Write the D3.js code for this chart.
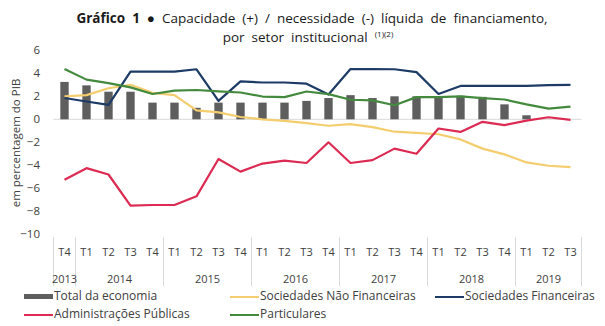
<!DOCTYPE html>
<html>
<head>
<meta charset="utf-8">
<script src="https://cdn.jsdelivr.net/npm/d3@7"></script>
<style>
  html, body { margin: 0; padding: 0; background: #fff; }
  svg { display: block; font-family: "Open Sans", "Noto Sans", sans-serif; }
</style>
</head>
<body>
<svg id="chart" width="605" height="326"></svg>
<script>
// ---- data ----
const quarters = ["T4","T1","T2","T3","T4","T1","T2","T3","T4","T1","T2","T3","T4","T1","T2","T3","T4","T1","T2","T3","T4","T1","T2","T3"];
const yearLabels = ["2013","2014","2015","2016","2017","2018","2019"];
const yearCounts = [1,4,4,4,4,4,3];
const yTicks = [6,4,2,0,-2,-4,-6,-8,-10];

const totalEconomia = [3.25,2.95,2.4,2.4,1.45,1.45,1.0,1.45,1.45,1.45,1.45,1.6,1.85,2.1,1.85,2.0,2.0,1.95,2.05,1.95,1.3,0.35,0,0];
const socNaoFin     = [2.0,2.1,2.7,3.0,2.3,2.1,0.78,0.6,0.2,0.0,-0.13,-0.33,-0.56,-0.42,-0.68,-1.08,-1.18,-1.3,-1.75,-2.55,-3.05,-3.75,-4.04,-4.16];
const socFin        = [1.85,1.55,1.25,4.15,4.15,4.15,4.35,1.6,3.3,3.2,3.2,3.1,2.15,4.37,4.37,4.35,4.1,2.2,2.9,2.9,2.9,2.9,2.97,3.0];
const admPublicas   = [-5.25,-4.25,-4.8,-7.5,-7.45,-7.45,-6.7,-3.45,-4.55,-3.85,-3.6,-3.8,-2.0,-3.8,-3.55,-2.55,-3.0,-0.8,-1.1,-0.22,-0.5,-0.12,0.18,-0.05];
const particulares  = [4.37,3.45,3.15,2.78,2.2,2.5,2.55,2.42,2.33,1.98,1.93,2.42,2.19,1.7,1.64,1.22,1.93,1.93,1.99,1.84,1.72,1.3,0.93,1.1];

const seriesNames  = ["Total da economia","Sociedades Não Financeiras","Sociedades Financeiras","Administrações Públicas","Particulares"];
const seriesColors = ["#5e5e5e","#f3cd6e","#1d3b66","#dc2a52","#448a3e"];

// ---- scales ----
const svg = d3.select("#chart");
const idx = d3.range(quarters.length);
const x = d3.scaleBand().domain(idx).range([53.5, 581.5]).paddingInner(0.62).paddingOuter(0.31);
const cx = i => x(i) + x.bandwidth() / 2;
const y = d3.scaleLinear().domain([-10, 6]).range([234.3, 50.3]);

// ---- title ----
const title = svg.append("text").attr("x", 312).attr("y", 23).attr("text-anchor", "middle")
  .attr("font-size", 13.5).attr("fill", "#1a1a1a").attr("word-spacing", 3.5);
title.append("tspan").attr("font-weight", "bold").text("Gráfico 1");
title.append("tspan").text(" ● Capacidade (+) / necessidade (-) líquida de financiamento,");
const t2 = svg.append("text").attr("x", 308).attr("y", 42).attr("text-anchor", "middle")
  .attr("font-size", 13.5).attr("fill", "#1a1a1a").attr("word-spacing", 3.5);
t2.append("tspan").text("por setor institucional ");
t2.append("tspan").attr("font-size", 8).attr("dy", -5).text("(1)(2)");

// ---- y axis ----
const yAxis = svg.append("g").attr("transform", "translate(44,0)")
  .call(d3.axisLeft(y).tickValues(yTicks).tickSize(0).tickPadding(4).tickFormat(d3.format("d")));
yAxis.select(".domain").remove();
yAxis.selectAll("text").attr("font-size", 11.5).attr("fill", "#404040").attr("font-family", "Open Sans, sans-serif");

svg.append("text").attr("transform", "translate(17,143) rotate(-90)")
  .attr("text-anchor", "middle").attr("dominant-baseline", "middle")
  .attr("font-size", 11.5).attr("fill", "#404040").text("em percentagem do PIB");

// ---- zero line ----
svg.append("line").attr("x1", 53.5).attr("x2", 581.5).attr("y1", y(0)).attr("y2", y(0))
  .attr("stroke", "#d9d9d9").attr("stroke-width", 1);

// ---- bars ----
svg.append("g").selectAll("rect").data(totalEconomia).join("rect")
  .attr("x", (d, i) => x(i))
  .attr("width", x.bandwidth())
  .attr("y", d => y(Math.max(0, d)))
  .attr("height", d => Math.abs(y(d) - y(0)))
  .attr("fill", seriesColors[0]);

// ---- lines ----
const line = d3.line().x((d, i) => cx(i)).y(d => y(d));
[socNaoFin, socFin, admPublicas, particulares].forEach((s, k) => {
  svg.append("path").datum(s).attr("d", line).attr("fill", "none")
    .attr("stroke", seriesColors[k + 1]).attr("stroke-width", 2.2)
    .attr("stroke-linejoin", "round");
});

// ---- x axis (quarters) ----
const xAxis = svg.append("g").attr("transform", "translate(0,248)")
  .call(d3.axisBottom(x).tickSize(0).tickPadding(0).tickFormat(i => quarters[i]));
xAxis.select(".domain").remove();
xAxis.selectAll("text").attr("font-size", 11).attr("fill", "#404040").attr("font-family", "Open Sans, sans-serif");

// year separators + labels
const bounds = [0];
yearCounts.forEach(c => bounds.push(bounds[bounds.length - 1] + c));
const step = x.step();
const bx = b => x.range()[0] + b * step;
svg.append("g").selectAll("line").data(bounds).join("line")
  .attr("x1", b => bx(b)).attr("x2", b => bx(b))
  .attr("y1", 237).attr("y2", 286)
  .attr("stroke", "#d9d9d9").attr("stroke-width", 1);
svg.append("g").selectAll("text").data(yearLabels).join("text")
  .attr("x", (d, i) => (bx(bounds[i]) + bx(bounds[i + 1])) / 2)
  .attr("y", 283).attr("text-anchor", "middle")
  .attr("font-size", 11).attr("fill", "#404040").text(d => d);

// ---- legend ----
const legendItems = [
  {k: 0, x: 22, y: 297, bar: true},
  {k: 1, x: 228, y: 297},
  {k: 2, x: 433, y: 297},
  {k: 3, x: 22, y: 315},
  {k: 4, x: 228, y: 315}
];
const lg = svg.append("g");
legendItems.forEach(it => {
  if (it.bar) {
    lg.append("rect").attr("x", it.x + 2).attr("y", it.y - 3).attr("width", 29).attr("height", 5)
      .attr("fill", seriesColors[it.k]);
  } else {
    lg.append("line").attr("x1", it.x + 2).attr("x2", it.x + 31).attr("y1", it.y).attr("y2", it.y)
      .attr("stroke", seriesColors[it.k]).attr("stroke-width", 2);
  }
  lg.append("text").attr("x", it.x + 32).attr("y", it.y).attr("dominant-baseline", "middle")
    .attr("font-size", 12).attr("fill", "#404040").text(seriesNames[it.k]);
});
</script>
</body>
</html>
